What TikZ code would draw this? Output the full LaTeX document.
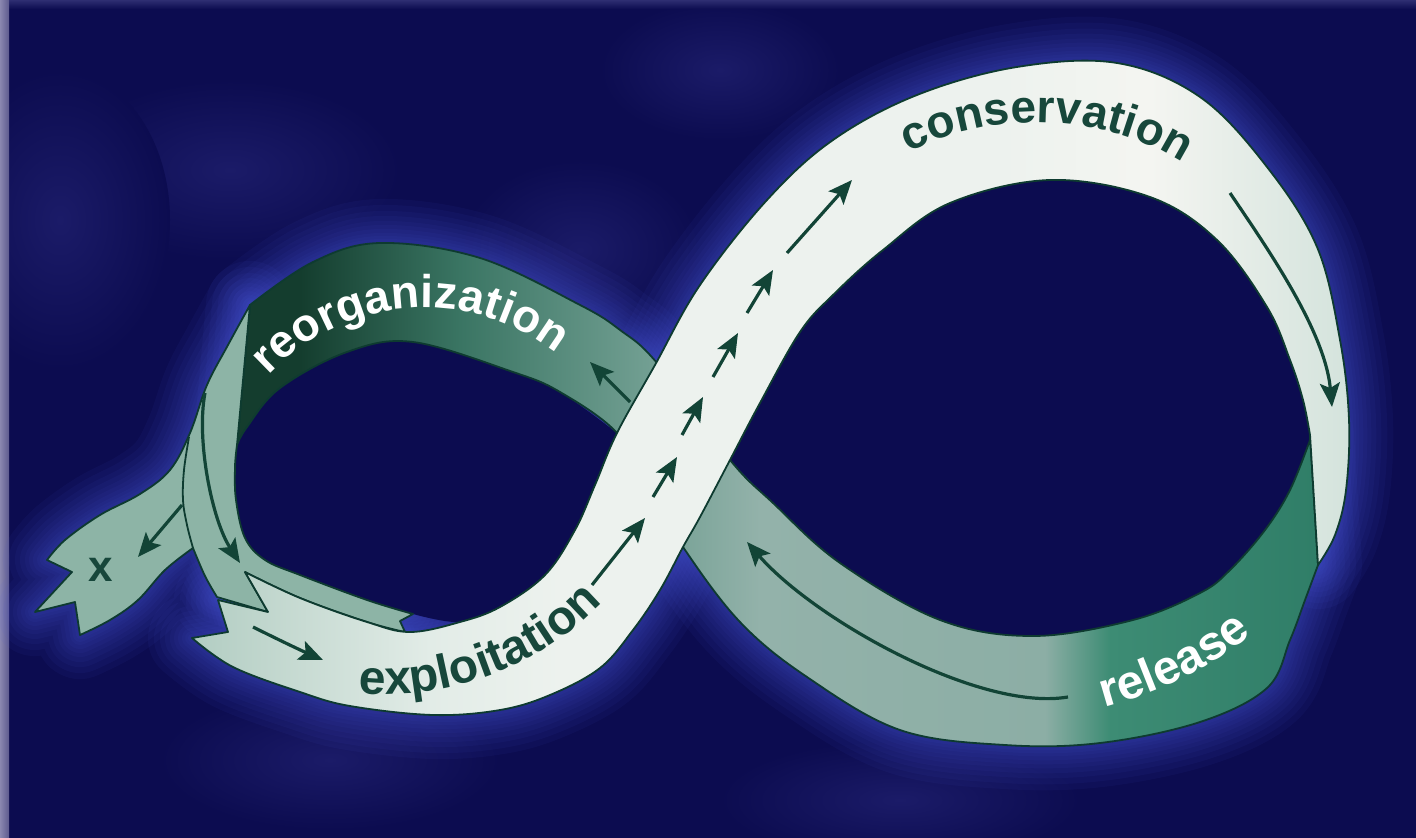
\documentclass[tikz,border=0pt]{standalone}
\usepackage{fontspec}
\setmainfont{Liberation Sans}
\usetikzlibrary{arrows.meta,decorations.text}
\definecolor{bgnavy}{HTML}{0C0C50}
\definecolor{glowc}{HTML}{4F5CE0}
\definecolor{blobc}{HTML}{1B1B68}
\definecolor{edgec}{HTML}{0E3B30}
\definecolor{txtdark}{HTML}{17473B}
\definecolor{arrc}{HTML}{124436}
\definecolor{gA1}{HTML}{143D2E}
\definecolor{gA2}{HTML}{3A7563}
\definecolor{gA3}{HTML}{6F9D90}
\definecolor{gA4}{HTML}{93B2AA}
\definecolor{gA5}{HTML}{8CAEA5}
\definecolor{gA6}{HTML}{3D8C74}
\definecolor{gA7}{HTML}{2F7D67}
\definecolor{bandB}{HTML}{8DB4A6}
\definecolor{cL1}{HTML}{AFCBC0}
\definecolor{cL2}{HTML}{E2ECE7}
\definecolor{cW}{HTML}{EDF2EE}
\definecolor{cW2}{HTML}{F4F5F1}
\definecolor{cR}{HTML}{D2E2DB}
\definecolor{stripL}{HTML}{8A87B0}
\definecolor{stripR}{HTML}{5D5A8E}
\definecolor{topstrip}{HTML}{2E2E72}
\tikzset{
  edge/.style={draw=edgec, line width=0.9pt, line join=round},
  arr/.style={draw=arrc, line width=1.6pt, -{Stealth[length=12pt, width=10pt, inset=2.5pt]}},
}
\begin{document}
\begin{tikzpicture}[x=0.5pt,y=0.5pt]
\useasboundingbox (0,0) rectangle (1416,-838);
% background
\fill[bgnavy] (0,0) rectangle (1416,-838);
\foreach \bx/\by/\rx/\ry in {230/170/170/90, 580/250/120/90, 1120/540/150/80, 1180/320/110/130, 330/760/170/70, 900/800/180/60, 60/220/110/150, 720/70/120/70}{
  \shade[inner color=blobc, outer color=bgnavy] (\bx,-\by) ellipse ({\rx} and {\ry});
}
\shade[top color=topstrip, bottom color=bgnavy] (0,0) rectangle (1416,-9);
\shade[left color=stripL, right color=stripR] (0,0) rectangle (9,-838);

% ---- paths ----
\path[save path=\pathA] (1310,-435) -- (1318,-565) -- plot[smooth, tension=0.6] coordinates {(1318,-565) (1305,-600) (1290,-640) (1267,-688) (1200,-722) (1100,-743) (1005,-745) (900,-730) (807,-677) (740,-622) (683,-547) (650,-490) (617,-433) (560,-392) (513,-372) (413,-342) (347,-352) (280,-388) (247,-427) (237,-445)} -- (250,-305) -- plot[smooth, tension=0.6] coordinates {(250,-305) (313,-262) (380,-243) (480,-258) (580,-305) (620,-330) (657,-363) (730,-460) (773,-503) (840,-563) (940,-620) (1033,-636) (1133,-620) (1200,-593) (1230,-570) (1265,-530) (1290,-490) (1310,-440)} -- cycle;

\path[save path=\pathB] (250,-305) -- plot[smooth, tension=0.6] coordinates {(250,-305) (228,-345) (207,-385) (190,-433) (170,-470) (140,-494) (100,-515) (65,-540) (47,-560)} -- (72,-572) -- (35,-612) -- (75,-602) -- (80,-635) -- plot[smooth, tension=0.6] coordinates {(80,-635) (110,-620) (138,-600) (165,-570) (193,-548)} -- plot[smooth, tension=0.6] coordinates {(193,-548) (205,-576) (217,-597)} -- (268,-612) -- (245,-572) -- plot[smooth, tension=0.6] coordinates {(245,-572) (300,-598) (367,-622) (405,-632)} -- (400,-621) -- (413,-614) -- plot[smooth, tension=0.6] coordinates {(413,-614) (367,-600) (300,-575) (265,-560) (245,-538) (236,-500) (235,-467) (237,-445)} -- cycle;

\path[save path=\pathC] (245,-572) -- plot[smooth, tension=0.6] coordinates {(245,-572) (300,-598) (367,-622) (410,-632) (460,-622) (500,-607) (545,-575) (575,-530) (595,-485) (617,-433) (655,-365) (700,-285) (767,-200) (833,-140) (917,-95) (1017,-67) (1117,-63) (1200,-97) (1267,-167) (1317,-247) (1340,-340) (1349,-420) (1346,-490) (1335,-535) (1318,-565)} -- (1310,-435) -- plot[smooth, tension=0.6] coordinates {(1310,-435) (1303,-400) (1290,-360) (1267,-307) (1217,-240) (1150,-197) (1050,-180) (950,-203) (883,-250) (833,-295) (800,-332) (760,-403) (730,-460) (700,-517) (683,-547) (660,-590) (633,-630) (600,-668) (550,-695) (500,-710) (433,-715) (350,-706) (300,-692) (233,-667) (192,-638)} -- (228,-632) -- (218,-600) -- (268,-612) -- cycle;

\path[save path=\holeR] plot[smooth, tension=0.6] coordinates {(730,-460) (760,-403) (800,-332) (833,-295) (883,-250) (950,-203) (1050,-180) (1150,-197) (1217,-240) (1267,-307) (1290,-360) (1303,-400) (1310,-435)} -- plot[smooth, tension=0.6] coordinates {(1310,-440) (1290,-490) (1265,-530) (1230,-570) (1200,-593) (1133,-620) (1033,-636) (940,-620) (840,-563) (773,-503) (730,-460)} -- cycle;

\path[save path=\holeL] plot[smooth, tension=0.6] coordinates {(617,-433) (560,-392) (513,-372) (413,-342) (347,-352) (280,-388) (247,-427) (237,-445)} -- plot[smooth, tension=0.6] coordinates {(237,-445) (235,-467) (236,-500) (245,-538) (265,-560) (300,-575) (367,-600) (413,-614)} -- plot[smooth, tension=0.6] coordinates {(413,-614) (460,-622) (500,-607) (545,-575) (575,-530) (595,-485) (617,-433)} -- cycle;

% ---- glow ----
\foreach \w in {44,38,32,27,22,18,14,10,7,4}{
  \draw[glowc, line width=\w pt, opacity=0.06, line join=round, use path=\pathA];
  \draw[glowc, line width=\w pt, opacity=0.06, line join=round, use path=\pathB];
  \draw[glowc, line width=\w pt, opacity=0.06, line join=round, use path=\pathC];
}
\fill[bgnavy, use path=\holeR];
\fill[bgnavy, use path=\holeL];

% ---- back band (reorganization / lower crossing / release) ----
\begin{scope}
  \clip[use path=\pathA];
  \fill[gA1] (200,0) rectangle (300,-840);
  \shade[left color=gA1, right color=gA2] (300,0) rectangle (460,-840);
  \shade[left color=gA2, right color=gA3] (460,0) rectangle (640,-840);
  \shade[left color=gA3, right color=gA4] (640,0) rectangle (760,-840);
  \shade[left color=gA4, right color=gA5] (760,0) rectangle (1045,-840);
  \shade[left color=gA5, right color=gA6] (1045,0) rectangle (1110,-840);
  \shade[left color=gA6, right color=gA7] (1110,0) rectangle (1330,-840);
\end{scope}
\draw[edge, use path=\pathA];

% ---- left loop band ----
\fill[bandB, use path=\pathB];
\draw[edge, use path=\pathB];
\draw[edge] plot[smooth, tension=0.6] coordinates {(189,-437) (184,-470) (183,-500) (187,-525) (193,-548)};

% ---- main white band ----
\begin{scope}
  \clip[use path=\pathC];
  \shade[left color=cL1, right color=cL2] (180,0) rectangle (430,-840);
  \shade[left color=cL2, right color=cW] (430,0) rectangle (560,-840);
  \fill[cW] (560,0) rectangle (1000,-840);
  \shade[left color=cW, right color=cW2] (1000,0) rectangle (1150,-840);
  \shade[left color=cW2, right color=cR] (1150,0) rectangle (1360,-840);
\end{scope}
\draw[edge, use path=\pathC];

% ---- arrows ----
\coordinate (d1a) at (592,-585); \coordinate (d1b) at (645,-518);
\coordinate (d2a) at (653,-497); \coordinate (d2b) at (677,-457);
\coordinate (d3a) at (682,-435); \coordinate (d3b) at (703,-397);
\coordinate (d4a) at (713,-377); \coordinate (d4b) at (738,-333);
\coordinate (d5a) at (747,-313); \coordinate (d5b) at (773,-270);
\coordinate (d6a) at (787,-253); \coordinate (d6b) at (852,-180);
\coordinate (ra) at (630,-402); \coordinate (rb) at (590,-362);
\coordinate (xa) at (182,-505); \coordinate (xb) at (138,-557);
\coordinate (ma) at (205,-393); \coordinate (mb) at (240,-563);
\coordinate (ba) at (253,-627); \coordinate (bb) at (323,-660);
\coordinate (ca) at (1230,-193); \coordinate (cb) at (1332,-407);
\coordinate (la) at (1068,-697); \coordinate (lb) at (747,-542);
\foreach \s/\e in {d1a/d1b, d2a/d2b, d3a/d3b, d4a/d4b, d5a/d5b, d6a/d6b, ra/rb, xa/xb}{
  \draw[arr] (\s) -- (\e);
}
\draw[arr] (ma) .. controls (196,-440) and (212,-520) .. (mb);
\draw[arr] (ba) .. controls (275,-638) and (300,-650) .. (bb);
\draw[arr] (ca) .. controls (1265,-245) and (1325,-330) .. (cb);
\draw[arr] (la) .. controls (980,-712) and (815,-620) .. (lb);

% ---- labels ----
\path[decorate, decoration={text along path, text align=center,
  text={|\fontsize{23}{23}\selectfont\bfseries\color{txtdark}|conservation}}]
  (895,-160) .. controls (980,-108) and (1110,-108) .. (1195,-172);
\path[decorate, decoration={text along path, text align=center,
  text={|\fontsize{23}{23}\selectfont\bfseries\color{white}|reorganization}}]
  (250,-398) .. controls (320,-300) and (470,-268) .. (578,-372);
\path[decorate, decoration={text along path, text align=center,
  text={|\fontsize{24}{24}\selectfont\bfseries\color{txtdark}|exploitation}}]
  (340,-690) .. controls (430,-708) and (545,-672) .. (615,-588);
\path[decorate, decoration={text along path, text align=center,
  text={|\fontsize{24}{24}\selectfont\bfseries\color{white}|release}}]
  (1085,-712) .. controls (1150,-697) and (1212,-670) .. (1268,-622);
\node[font=\fontsize{22}{22}\selectfont\bfseries, text=txtdark, inner sep=0pt] (xlab) at (101,-570) {x};
\end{tikzpicture}
\end{document}
